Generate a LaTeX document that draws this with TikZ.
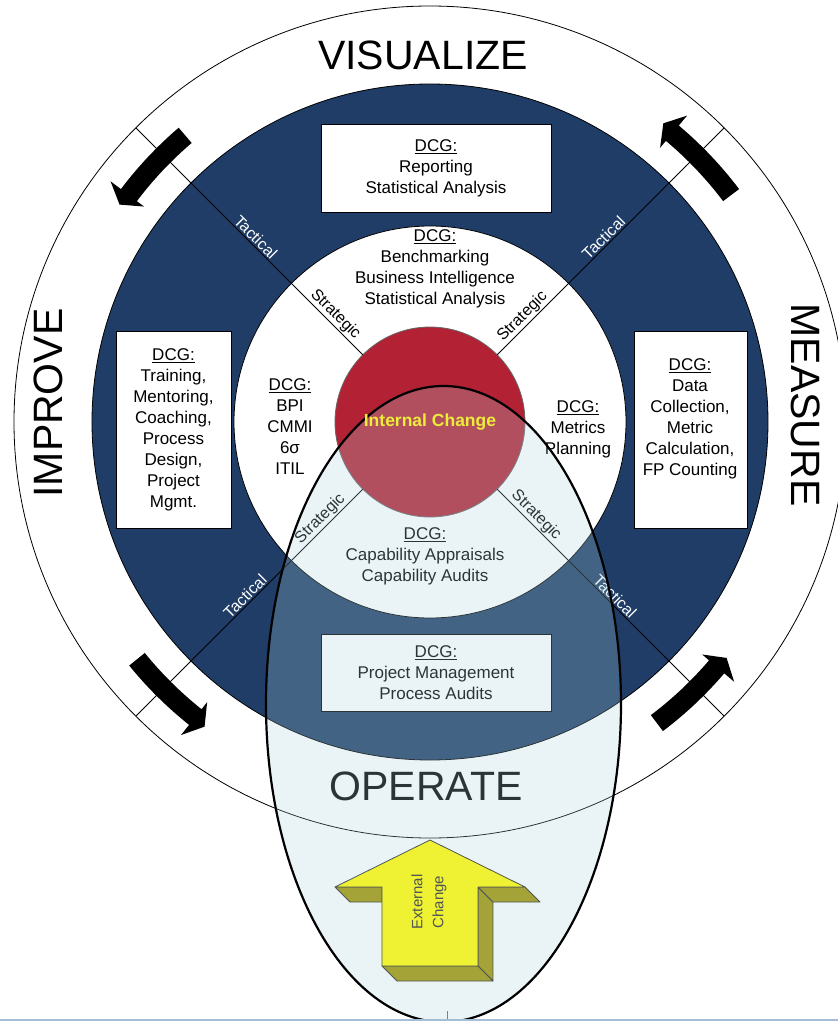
\documentclass[tikz,border=0pt]{standalone}
\usepackage{fontspec}
\setmainfont{Liberation Sans}
\usetikzlibrary{shapes.geometric}
\definecolor{navy}{RGB}{31,61,102}
\definecolor{wine}{RGB}{178,34,52}
\definecolor{lemon}{RGB}{236,236,58}
\definecolor{haze}{RGB}{175,215,225}
\definecolor{arrowface}{RGB}{238,242,50}
\definecolor{arrowside}{RGB}{163,163,56}
\definecolor{edgegrey}{RGB}{80,85,85}
\definecolor{footline}{RGB}{165,190,215}

\begin{document}
\begin{tikzpicture}[x=1pt,y=1pt,
  disc/.style={circle, inner sep=0pt, outer sep=0pt, draw=black, line width=0.8pt},
  dcgbox/.style={draw=black, fill=white, line width=0.8pt, inner sep=0pt},
  dcg/.style={align=center, font=\fontsize{17}{21}\selectfont},
  bigword/.style={font=\fontsize{41}{41}\selectfont, anchor=base, inner sep=0pt},
  tactical/.style={font=\fontsize{16}{16}\selectfont, text=white, anchor=south, inner sep=1.5pt},
  strategic/.style={font=\fontsize{16}{16}\selectfont, text=black, anchor=south, inner sep=1.5pt},
  spoke/.style={draw=black, line width=0.9pt},
  cyclearrow/.style={fill=black},
  face/.style={draw=edgegrey, line width=0.8pt, line join=round},
]
\useasboundingbox (-430,-599) rectangle (408,422);
\clip (-430,-599) rectangle (408,422);
\fill[white] (-430,-599) rectangle (408,422);

% concentric rings
\node[disc, minimum size=832pt] (outer) at (0,0) {};
\node[disc, minimum size=676pt, fill=navy] (ring) at (0,0) {};
\node[disc, minimum size=392pt, fill=white] (core) at (0,0) {};
\node[disc, minimum size=190pt, fill=wine, draw=black!60] (red) at (0,0) {};

% diagonal spokes
\foreach \a in {45,135,225,315}
  \draw[spoke] (red.\a) -- (outer.\a);

% DCG boxes in the blue ring
\node[dcgbox, dcg, minimum width=230pt, minimum height=88pt] (boxtop) at (6,254)
  {\underline{DCG:}\\Reporting\\Statistical Analysis};
\node[dcgbox, dcg, minimum width=115pt, minimum height=197pt] (boxleft) at (-256.5,-7.5)
  {\underline{DCG:}\\Training,\\Mentoring,\\Coaching,\\Process\\Design,\\Project\\Mgmt.};
\node[dcgbox, minimum width=113pt, minimum height=197pt] (boxright) at (260.5,-7.5) {};
\node[dcg] (txtright) at (260,3)
  {\underline{DCG:}\\Data\\Collection,\\Metric\\Calculation,\\FP Counting};
\node[dcgbox, dcg, minimum width=230pt, minimum height=77pt] (boxbottom) at (6,-250.5)
  {\underline{DCG:}\\Project Management\\Process Audits};

% DCG groups in the inner circle
\node[dcg] (intop) at (5,153) {\underline{DCG:}\\Benchmarking\\Business Intelligence\\Statistical Analysis};
\node[dcg] (inleft) at (-140,-5) {\underline{DCG:}\\BPI\\CMMI\\6σ\\ITIL};
\node[dcg] (inright) at (148,-7) {\underline{DCG:}\\Metrics\\Planning};
\node[dcg] (inbottom) at (-5,-134.5) {\underline{DCG:}\\Capability Appraisals\\Capability Audits};

% spoke labels
\node[tactical, rotate=-45] (tul) at (135:254) {Tactical};
\node[strategic, rotate=-45] (sul) at (135:143) {Strategic};
\node[tactical, rotate=45] (tur) at (45:253) {Tactical};
\node[strategic, rotate=45] (sur) at (45:140) {Strategic};
\node[tactical, rotate=45] (tll) at (225:254) {Tactical};
\node[strategic, rotate=45] (sll) at (225:146) {Strategic};
\node[tactical, rotate=-45] (tlr) at (315:254) {Tactical};
\node[strategic, rotate=-45] (slr) at (315:141) {Strategic};

% phase names
\node[bigword] (visualize) at (-7,352) {VISUALIZE};
\node[bigword, rotate=90] (improve) at (-367,19) {IMPROVE};
\node[bigword, rotate=-90] (measure) at (361,17) {MEASURE};
\node[bigword] (operate) at (-4,-378) {OPERATE};

% curved cycle arrows in the outer ring: tail angle / head-base angle
\foreach \ta/\hb in {37/50, 130.5/143, 219/231.5, 307/319.5}
  \fill[cyclearrow] (\ta:367) arc[start angle=\ta, end angle=\hb, radius=367]
    -- (\hb:358) -- ({\hb+2}:379) -- (\hb:400) -- (\hb:387)
    arc[start angle=\hb, end angle=\ta, radius=387] -- cycle;

% operate zone
\node[ellipse, inner sep=0pt, outer sep=0pt, minimum width=355pt, minimum height=636pt,
  fill=haze, fill opacity=0.25, draw=black, line width=2.2pt] (zone) at (13.5,-282) {};

\node[font=\bfseries\fontsize{17.5}{17.5}\selectfont, text=lemon, inner sep=0pt] (internal) at (0,0) {Internal Change};

% external change block arrow
\fill[arrowside, face] (-95,-465) -- (-80,-480) -- (-48,-480) -- (-48,-465) -- cycle;
\fill[arrowside, face] (48,-465) -- (63,-480) -- (63,-559) -- (48,-544) -- cycle;
\fill[arrowside, face] (48,-465) -- (95,-465) -- (110,-480) -- (63,-480) -- cycle;
\fill[arrowside, face] (-48,-544) -- (-33,-559) -- (63,-559) -- (48,-544) -- cycle;
\fill[arrowface, face] (0,-418) -- (-95,-465) -- (-48,-465) -- (-48,-544) -- (48,-544)
  -- (48,-465) -- (95,-465) -- cycle;
\node[rotate=90, align=center, font=\fontsize{15}{21}\selectfont, text=edgegrey] (external) at (-1,-480) {External\\Change};

% page foot rule
\coordinate (footL) at (-430,-598);
\coordinate (footR) at (408,-598);
\coordinate (tickT) at (17,-589);
\coordinate (tickB) at (17,-597);
\draw[footline, line width=1.5pt] (footL) -- (footR);
\draw[gray, line width=0.8pt] (tickT) -- (tickB);
\end{tikzpicture}
\end{document}
